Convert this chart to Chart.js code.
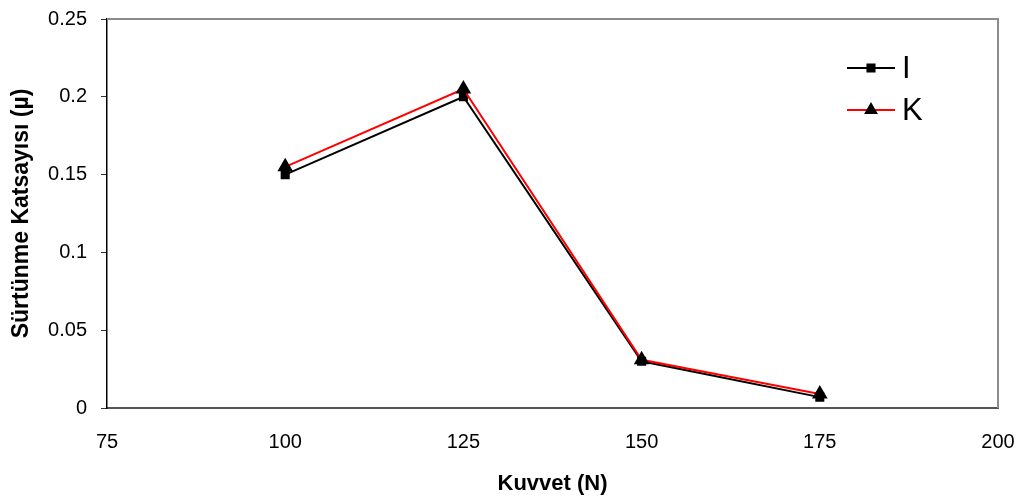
<!DOCTYPE html>
<html>
<head>
<meta charset="utf-8">
<script src="https://cdn.jsdelivr.net/npm/chart.js@4"></script>
<style>
    body { margin: 0; background: #fff; }
    #wrap { width: 1029px; height: 501px; }
</style>
</head>
<body>
<div id="wrap"><canvas id="chart" width="1029" height="501"></canvas></div>
<script>
const forces = [100, 125, 150, 175];
const valuesI = [0.15, 0.2, 0.03, 0.007];
const valuesK = [0.155, 0.205, 0.031, 0.009];
const xTicks = [75, 100, 125, 150, 175, 200];
const yTicks = [0, 0.05, 0.1, 0.15, 0.2, 0.25];

const font = "'Liberation Sans', Arial, sans-serif";

function toPoints(vals) {
    return forces.map((f, i) => ({ x: f, y: vals[i] }));
}

// grey frame round the plot area (top / right)
const framePlugin = {
    id: 'frame',
    beforeDatasetsDraw(chart) {
        const a = chart.chartArea;
        const ctx = chart.ctx;
        ctx.save();
        ctx.strokeStyle = '#8c8c8c';
        ctx.lineWidth = 2;
        ctx.beginPath();
        ctx.moveTo(a.left, a.top);
        ctx.lineTo(a.right, a.top);
        ctx.lineTo(a.right, a.bottom);
        ctx.stroke();
        ctx.restore();
    }
};

// legend: line with marker, text on the right
const legendPlugin = {
    id: 'lineLegend',
    afterDraw(chart) {
        const ctx = chart.ctx;
        const x0 = 847, x1 = 895;
        let y = 68;
        chart.data.datasets.forEach(ds => {
            ctx.save();
            ctx.strokeStyle = ds.borderColor;
            ctx.lineWidth = 2;
            ctx.beginPath();
            ctx.moveTo(x0, y);
            ctx.lineTo(x1, y);
            ctx.stroke();
            ctx.fillStyle = ds.pointBackgroundColor;
            ctx.strokeStyle = ds.pointBorderColor;
            Chart.helpers.drawPoint(ctx, {
                pointStyle: ds.pointStyle,
                radius: ds.pointStyle === 'triangle' ? 6 : 5,
                borderWidth: 1
            }, (x0 + x1) / 2, y);
            ctx.fillStyle = '#000';
            ctx.font = '31px ' + font;
            ctx.textBaseline = 'middle';
            ctx.fillText(ds.label, 902, y + 1);
            ctx.restore();
            y += 42;
        });
    }
};

new Chart(document.getElementById('chart'), {
    type: 'line',
    data: {
        datasets: [{
            label: 'I',
            data: toPoints(valuesI),
            borderColor: '#000',
            backgroundColor: '#000',
            borderWidth: 2,
            pointStyle: 'rect',
            pointRadius: 5,
            pointBackgroundColor: '#000',
            pointBorderColor: '#000',
            tension: 0,
            order: 2
        }, {
            label: 'K',
            data: toPoints(valuesK),
            borderColor: '#ff0000',
            backgroundColor: '#000',
            borderWidth: 2,
            pointStyle: 'triangle',
            pointRadius: 7,
            pointBackgroundColor: '#000',
            pointBorderColor: '#000',
            tension: 0,
            order: 1
        }]
    },
    options: {
        responsive: false,
        animation: false,
        layout: { padding: { top: 19, right: 31, left: 0, bottom: 0 } },
        plugins: {
            legend: { display: false },
            tooltip: { enabled: false }
        },
        scales: {
            x: {
                type: 'linear',
                min: 75,
                max: 200,
                afterBuildTicks: s => { s.ticks = xTicks.map(v => ({ value: v })); },
                afterFit: s => { s.height = 93; s.paddingLeft = 0; s.paddingRight = 0; },
                grid: { display: false, drawOnChartArea: false, drawTicks: true, tickLength: 7, color: '#555' },
                border: { color: '#555', width: 2 },
                ticks: { color: '#000', font: { family: font, size: 20 }, padding: 15, maxRotation: 0 },
                title: { display: true, text: 'Kuvvet (N)', color: '#000', font: { family: font, size: 22, weight: 'bold' }, padding: { top: 4, bottom: 4 } }
            },
            y: {
                type: 'linear',
                min: 0,
                max: 0.25,
                afterBuildTicks: s => { s.ticks = yTicks.map(v => ({ value: v })); },
                afterFit: s => { s.width = 107; s.paddingTop = 0; s.paddingBottom = 0; },
                grid: { display: true, drawOnChartArea: false, drawTicks: true, tickLength: 6, color: '#333' },
                border: { color: '#000', width: 1.5 },
                ticks: {
                    color: '#000',
                    font: { family: font, size: 20 },
                    padding: 14,
                    callback: v => String(parseFloat(v.toFixed(2)))
                },
                title: { display: true, text: 'Sürtünme Katsayısı (µ)', color: '#000', font: { family: font, size: 23, weight: 'bold' }, padding: { top: 8, bottom: 2 } }
            }
        }
    },
    plugins: [framePlugin, legendPlugin]
});
</script>
</body>
</html>
